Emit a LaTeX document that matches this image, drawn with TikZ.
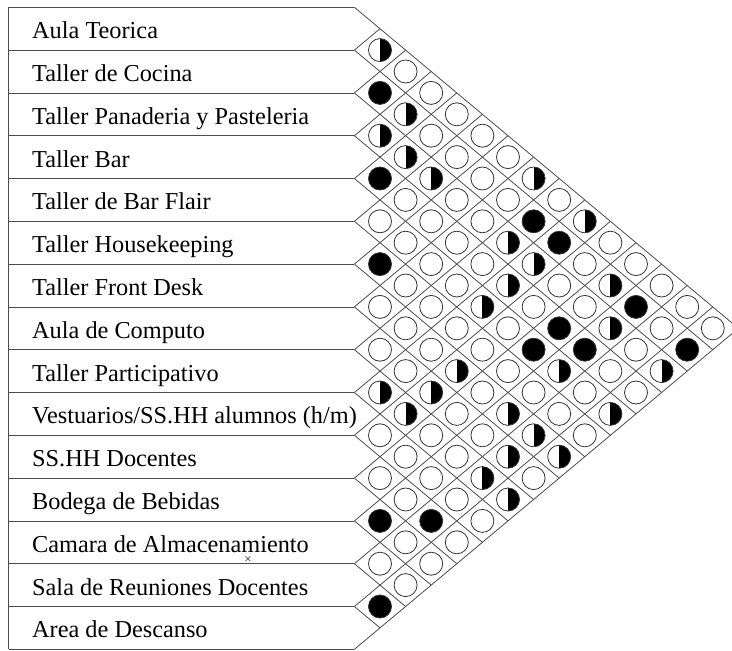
\documentclass[tikz,border=0pt]{standalone}
\usepackage{fontspec}
\setmainfont{Liberation Serif}
\tikzset{
  chartline/.style={draw=black!70, line width=0.8pt},
  lbl/.style={anchor=base west, font=\fontsize{24.3}{28}\selectfont, inner sep=0pt},
  relo/.style={circle, draw=black!80, fill=white, line width=0.8pt, minimum size=23pt, inner sep=0pt},
  relB/.style={relo, fill=black},
  relH/.style={relo, path picture={\fill[black] (path picture bounding box.north) rectangle (path picture bounding box.south east);}},
  xmark/.style={font=\fontsize{13}{13}\selectfont, inner sep=0pt, text=black!85}
}

\begin{document}
\begin{tikzpicture}[x=1pt, y=-1pt]
  \clip (0,0) rectangle (732,651);
  % label boxes and diagonal grid
  \draw[chartline] (8.7,7.3) -- (8.7,649.3);
  \foreach \k in {0,...,15} {
    \draw[chartline] (8.7,{7.3+42.8*\k}) -- (354.4,{7.3+42.8*\k});
    \draw[chartline] (354.4,{7.3+42.8*\k}) -- ({354.4+25.6*(15-\k)},{7.3+21.4*(15+\k)});
    \draw[chartline] (354.4,{7.3+42.8*\k}) -- ({354.4+25.6*\k},{7.3+21.4*\k});
  }
  % room names
  \foreach \name [count=\i] in {Aula Teorica, Taller de Cocina, Taller Panaderia y Pasteleria,
      Taller Bar, Taller de Bar Flair, Taller Housekeeping, Taller Front Desk, Aula de Computo,
      Taller Participativo, Vestuarios/SS.HH alumnos (h/m), SS.HH Docentes, Bodega de Bebidas,
      Camara de Almacenamiento, Sala de Reuniones Docentes, Area de Descanso}
    \node[lbl] (r\i) at (32,{7.3+42.8*(\i-0.5)+10}) {\name};
  \node[xmark] (mk) at (248,560) {×};
  % relations: o = none, H = half, B = full
  \foreach \row [count=\i] in {
      {H,o,o,o,o,o,H,o,H,o,o,o,o,o},
      {B,H,o,o,o,o,B,B,o,H,B,o,B},
      {H,H,H,o,o,H,H,o,o,H,o,H},
      {B,o,o,o,o,H,o,B,B,o,o},
      {o,o,o,o,H,o,B,H,o,H},
      {B,o,o,o,o,o,o,o,o},
      {o,o,o,H,o,H,H,H},
      {o,o,H,o,o,H,o},
      {H,H,o,o,H,H},
      {o,o,o,o,o},
      {o,o,B,o},
      {B,o,o},
      {o,o},
      {B}} {
    \foreach \t [count=\d] in \row {
      \pgfmathtruncatemacro\j{\i+\d}
      \node[rel\t] (c-\i-\j) at ({354.4+25.6*\d},{7.3+21.4*(2*\i+\d-1)}) {};
    }
  }
\end{tikzpicture}
\end{document}
